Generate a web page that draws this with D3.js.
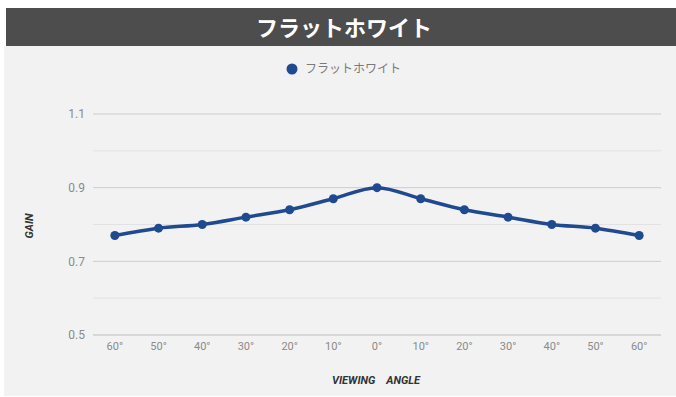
<!DOCTYPE html>
<html>
<head>
<meta charset="utf-8">
<script src="https://cdn.jsdelivr.net/npm/d3@7"></script>
<style>
  html, body { margin: 0; padding: 0; background: #ffffff; }
  svg { display: block; }
</style>
</head>
<body>
<svg id="chart" width="676" height="397"></svg>
<script>
// Screen gain by viewing angle for the "flat white" material
const title = "フラットホワイト";
const seriesName = "フラットホワイト";
const angles = ["60°", "50°", "40°", "30°", "20°", "10°", "0°", "10°", "20°", "30°", "40°", "50°", "60°"];
const gain = [0.77, 0.79, 0.80, 0.82, 0.84, 0.87, 0.90, 0.87, 0.84, 0.82, 0.80, 0.79, 0.77];
const yTicks = [0.5, 0.7, 0.9, 1.1];
const yMinor = [0.6, 0.8, 1.0];
const xTitle = "VIEWING    ANGLE";
const yTitle = "GAIN";

const W = 676, H = 397;
const svg = d3.select("#chart");
const lineColor = "#1f4a8f";

// panel background
svg.append("rect").attr("x", 4).attr("y", 46).attr("width", W - 4).attr("height", 350).attr("fill", "#f2f2f2");
// title bar
svg.append("rect").attr("x", 6).attr("y", 8).attr("width", W - 6).attr("height", 38).attr("fill", "#4d4d4d");
svg.append("text").attr("x", 344).attr("y", 28).attr("dy", "0.35em")
  .attr("text-anchor", "middle").attr("fill", "#ffffff")
  .attr("font-family", "'Noto Sans CJK JP', sans-serif").attr("font-size", 22).attr("font-weight", 700)
  .text(title);

const m = { left: 93, right: 661, top: 114, bottom: 335 };
const x = d3.scaleBand().domain(d3.range(angles.length)).range([m.left, m.right]);
const y = d3.scaleLinear().domain([0.5, 1.1]).range([m.bottom, m.top]);

// gridlines
const g = svg.append("g");
g.selectAll("line.minor").data(yMinor).join("line")
  .attr("x1", m.left).attr("x2", m.right)
  .attr("y1", d => y(d)).attr("y2", d => y(d))
  .attr("stroke", "#e2e2e2").attr("stroke-width", 1);
g.selectAll("line.major").data(yTicks).join("line")
  .attr("x1", m.left).attr("x2", m.right)
  .attr("y1", d => y(d)).attr("y2", d => y(d))
  .attr("stroke", d => d === 0.5 ? "#bdbdbd" : "#cccccc").attr("stroke-width", 1);

// y axis labels
const yAxis = d3.axisLeft(y).tickValues(yTicks).tickSize(0).tickPadding(8).tickFormat(d3.format(".1f"));
svg.append("g").attr("transform", `translate(${m.left},0)`).call(yAxis)
  .call(s => s.select(".domain").remove())
  .selectAll("text").attr("fill", "#8a8a8a").attr("font-family", "Roboto, sans-serif").attr("font-size", 12);

// x axis labels
const xAxis = d3.axisBottom(x).tickSize(0).tickPadding(7).tickFormat(i => angles[i]);
svg.append("g").attr("transform", `translate(0,${m.bottom})`).call(xAxis)
  .call(s => s.select(".domain").remove())
  .selectAll("text").attr("fill", "#8a8a8a").attr("font-family", "Roboto, sans-serif").attr("font-size", 11);

// axis titles
svg.append("text").attr("x", 376).attr("y", 380).attr("dy", "0.35em").attr("text-anchor", "middle")
  .attr("fill", "#333333").attr("font-family", "Roboto, sans-serif").attr("font-size", 11)
  .attr("font-weight", 700).attr("font-style", "italic").attr("xml:space", "preserve")
  .style("white-space", "pre").text(xTitle);
svg.append("text").attr("transform", "translate(29,226) rotate(-90)").attr("dy", "0.35em")
  .attr("text-anchor", "middle").attr("fill", "#333333").attr("font-family", "Roboto, sans-serif")
  .attr("font-size", 11).attr("font-weight", 700).attr("font-style", "italic").text(yTitle);

// legend
svg.append("circle").attr("cx", 292).attr("cy", 69).attr("r", 5.5).attr("fill", lineColor);
svg.append("text").attr("x", 305).attr("y", 69).attr("dy", "0.35em").attr("fill", "#7a7a7a")
  .attr("font-family", "'Noto Sans CJK JP', sans-serif").attr("font-size", 12).text(seriesName);

// series line and points
const cx = i => x(i) + x.bandwidth() / 2;
const line = d3.line().x((d, i) => cx(i)).y(d => y(d)).curve(d3.curveMonotoneX);
svg.append("path").datum(gain).attr("d", line).attr("fill", "none")
  .attr("stroke", lineColor).attr("stroke-width", 3.5).attr("stroke-linejoin", "round");
svg.selectAll("circle.pt").data(gain).join("circle").attr("class", "pt")
  .attr("cx", (d, i) => cx(i)).attr("cy", d => y(d)).attr("r", 4.5).attr("fill", lineColor);
</script>
</body>
</html>
